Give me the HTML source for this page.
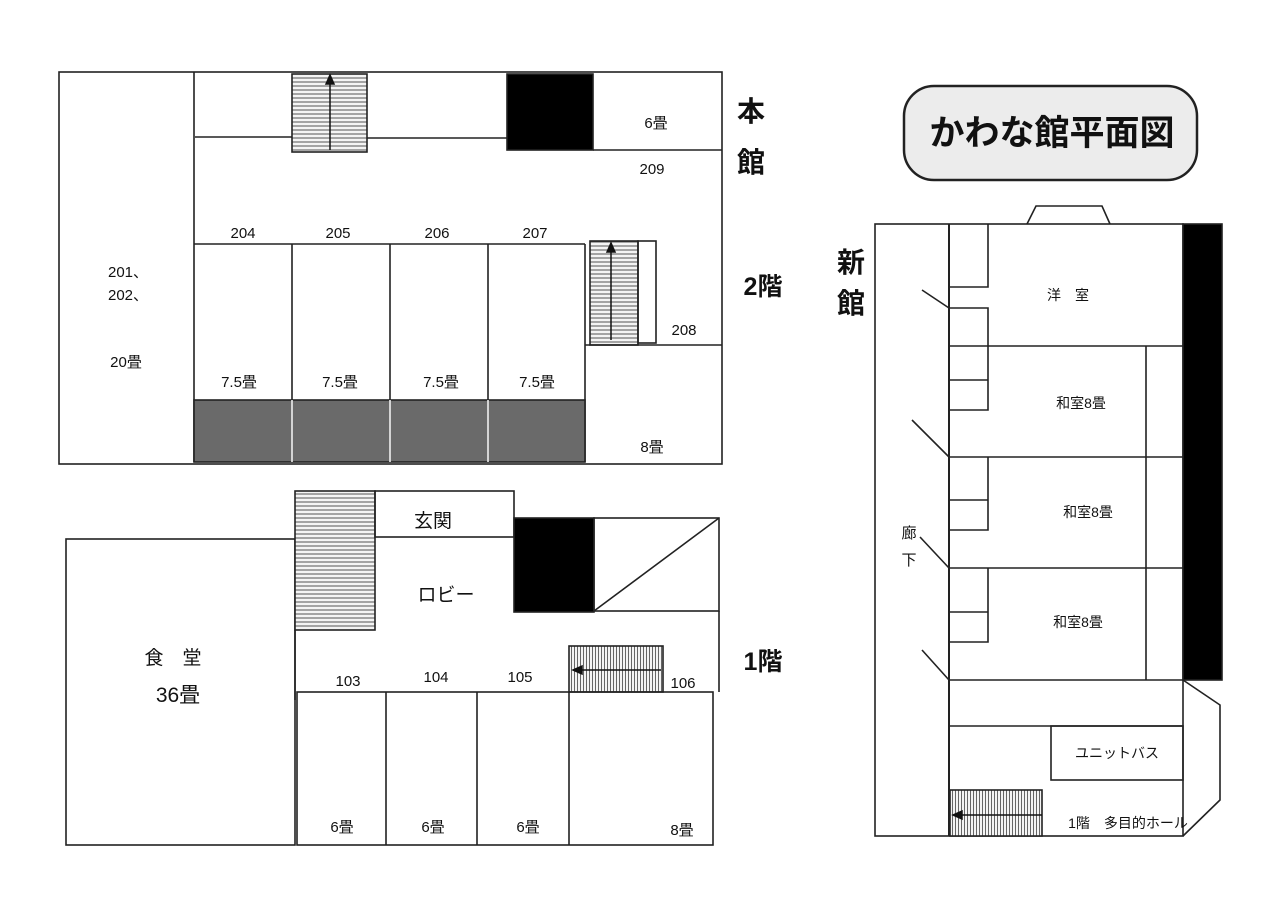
<!DOCTYPE html>
<html><head><meta charset="utf-8"><style>
html,body{margin:0;padding:0;background:#fff;}
svg{display:block}
text{font-family:"Liberation Sans","Noto Sans CJK JP",sans-serif;fill:#111}
</style></head><body>
<svg width="1280" height="897" viewBox="0 0 1280 897" xmlns="http://www.w3.org/2000/svg">
<defs>
<pattern id="hs" width="6" height="4" patternUnits="userSpaceOnUse"><rect width="6" height="4" fill="#f4f4f4"/><line x1="0" y1="2" x2="6" y2="2" stroke="#555" stroke-width="1"/></pattern>
<pattern id="vs" width="3" height="6" patternUnits="userSpaceOnUse"><rect width="3" height="6" fill="#f4f4f4"/><line x1="1.5" y1="0" x2="1.5" y2="6" stroke="#666" stroke-width="1"/></pattern>
</defs>
<g fill="none" stroke="#222" stroke-width="1.6">
<!-- 2F -->
<rect x="59" y="72" width="663" height="392" fill="#fff"/>
<line x1="194" y1="72" x2="194" y2="462"/>
<line x1="195" y1="137" x2="292" y2="137"/>
<line x1="367" y1="138" x2="507" y2="138"/>
<rect x="292" y="74" width="75" height="78" fill="url(#hs)"/>
<rect x="507" y="74" width="86" height="76" fill="#000"/>
<line x1="593" y1="150" x2="722" y2="150"/>
<line x1="194" y1="244" x2="585" y2="244"/>
<line x1="292" y1="244" x2="292" y2="462"/>
<line x1="390" y1="244" x2="390" y2="462"/>
<line x1="488" y1="244" x2="488" y2="462"/>
<line x1="585" y1="244" x2="585" y2="462"/>
<rect x="194" y="400" width="391" height="62" fill="#6a6a6a"/>
<line x1="292" y1="400" x2="292" y2="462" stroke="#eee"/>
<line x1="390" y1="400" x2="390" y2="462" stroke="#eee"/>
<line x1="488" y1="400" x2="488" y2="462" stroke="#eee"/>
<rect x="590" y="241" width="48" height="104" fill="url(#hs)"/>
<rect x="638" y="241" width="18" height="102"/>
<line x1="585" y1="345" x2="722" y2="345"/>
<!-- 1F -->
<rect x="66" y="539" width="229" height="306" fill="#fff"/>
<rect x="295" y="491" width="80" height="139" fill="url(#hs)"/>
<rect x="375" y="491" width="139" height="46"/>
<rect x="514" y="518" width="80" height="94" fill="#000"/>
<rect x="594" y="518" width="125" height="93"/>
<line x1="594" y1="611" x2="719" y2="518"/>
<line x1="719" y1="611" x2="719" y2="692"/>
<line x1="295" y1="630" x2="295" y2="700"/>
<rect x="569" y="646" width="94" height="46" fill="url(#vs)"/>
<rect x="297" y="692" width="416" height="153"/>
<line x1="386" y1="692" x2="386" y2="845"/>
<line x1="477" y1="692" x2="477" y2="845"/>
<line x1="569" y1="692" x2="569" y2="845"/>
<!-- new building -->
<path d="M1027 224 L1036 206 L1102 206 L1110 224"/>
<rect x="875" y="224" width="308" height="612" fill="#fff"/>
<line x1="949" y1="224" x2="949" y2="836" stroke-width="2"/>
<rect x="1183" y="224" width="39" height="456" fill="#000"/>
<line x1="949" y1="346" x2="1183" y2="346"/>
<line x1="949" y1="457" x2="1183" y2="457"/>
<line x1="949" y1="568" x2="1183" y2="568"/>
<line x1="949" y1="680" x2="1183" y2="680"/>
<line x1="1146" y1="346" x2="1146" y2="680"/>
<path d="M949 287 H988 V224"/>
<path d="M949 308 H988 V346"/>
<path d="M949 380 H988 V346 M949 410 H988 V380"/>
<path d="M949 500 H988 V457 M949 530 H988 V500"/>
<path d="M949 612 H988 V568 M949 642 H988 V612"/>
<line x1="922" y1="290" x2="949" y2="308"/>
<line x1="912" y1="420" x2="949" y2="457"/>
<line x1="920" y1="537" x2="949" y2="568"/>
<line x1="922" y1="650" x2="949" y2="680"/>
<line x1="949" y1="726" x2="1183" y2="726"/>
<rect x="1051" y="726" width="132" height="54"/>
<rect x="950" y="790" width="92" height="46" fill="url(#vs)"/>
<path d="M1183 680 L1220 705 L1220 800 L1183 836"/>
<!-- title -->
<rect x="904" y="86" width="293" height="94" rx="30" fill="#ececec" stroke-width="2.5"/>
</g>
<g stroke="#111" stroke-width="1.5" fill="#111">
<line x1="330" y1="150" x2="330" y2="82"/><path d="M326 84 L330 75 L334 84Z"/>
<line x1="611" y1="340" x2="611" y2="250"/><path d="M607 252 L611 243 L615 252Z"/>
<line x1="661" y1="670" x2="580" y2="670"/><path d="M582 666 L573 670 L582 674Z"/>
<line x1="1042" y1="815" x2="960" y2="815"/><path d="M962 811 L953 815 L962 819Z"/>
</g>
<g font-size="15" text-anchor="middle">
<text x="243" y="238">204</text><text x="338" y="238">205</text><text x="437" y="238">206</text><text x="535" y="238">207</text>
<text x="652" y="174">209</text><text x="684" y="335">208</text>
<text x="656" y="128">6畳</text><text x="652" y="452">8畳</text>
<text x="128" y="277">201、</text><text x="128" y="300">202、</text><text x="126" y="367">20畳</text>
<g font-family="Liberation Serif,Noto Serif CJK SC,serif" font-size="15"><text x="239" y="387">7.5畳</text><text x="340" y="387">7.5畳</text><text x="441" y="387">7.5畳</text><text x="537" y="387">7.5畳</text></g>
<text x="348" y="686">103</text><text x="436" y="682">104</text><text x="520" y="682">105</text><text x="683" y="688">106</text>
<text x="342" y="832">6畳</text><text x="433" y="832">6畳</text><text x="528" y="832">6畳</text><text x="682" y="835">8畳</text>
<text x="1068" y="300" font-size="14">洋　室</text>
<text x="1081" y="408" font-size="14">和室8畳</text>
<text x="1088" y="517" font-size="14">和室8畳</text>
<text x="1078" y="627" font-size="14">和室8畳</text>
<text x="1117" y="758" font-size="14">ユニットバス</text>
<text x="1128" y="828" font-size="14">1階　多目的ホール</text>
<text x="909" y="538" font-size="15">廊</text><text x="909" y="565" font-size="15">下</text>
</g>
<g font-size="19" text-anchor="middle">
<text x="173" y="664">食　堂</text><text x="178" y="702" font-size="21">36畳</text>
<text x="433" y="527">玄関</text><text x="446" y="601">ロビー</text>
</g>
<g font-size="28" font-weight="bold" text-anchor="middle">
<text x="751" y="121">本</text><text x="751" y="172">館</text>
<text x="763" y="295" font-size="25">2階</text>
<text x="763" y="670" font-size="25">1階</text>
<text x="851" y="272">新</text><text x="851" y="313">館</text>
</g>
<text x="1052" y="145" font-size="35" text-anchor="middle" font-weight="bold">かわな館平面図</text>
</svg>
</body></html>
